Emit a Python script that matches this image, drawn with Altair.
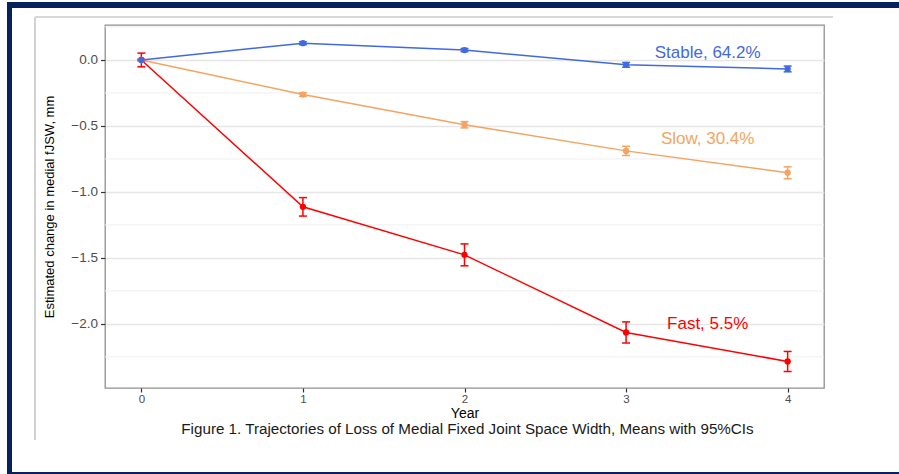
import altair as alt
import pandas as pd

# ---- data ----
years = [0, 1, 2, 3, 4]
series_names = ["Fast", "Slow", "Stable"]
fast_mean = [0.0, -1.113, -1.477, -2.065, -2.285]
fast_ci = [0.052, 0.07, 0.083, 0.08, 0.076]
slow_mean = [0.0, -0.262, -0.491, -0.689, -0.855]
slow_ci = [0.006, 0.014, 0.024, 0.035, 0.045]
stable_mean = [0.0, 0.127, 0.075, -0.037, -0.068]
stable_ci = [0.005, 0.011, 0.012, 0.018, 0.022]
series_colors = ["#FF0000", "#F4A460", "#4169E1"]

label_text = ["Fast, 5.5%", "Slow, 30.4%", "Stable, 64.2%"]
label_year = [3.505, 3.505, 3.505]
label_value = [-2.04, -0.639, 0.017]

y_major = [-2.0, -1.5, -1.0, -0.5, 0.0]
y_minor = [-2.25, -1.75, -1.25, -0.75, -0.25, 0.25]

caption = "Figure 1. Trajectories of Loss of Medial Fixed Joint Space Width, Means with 95%CIs"

# ---- tables ----
rows = []
for name, means, cis in zip(series_names, [fast_mean, slow_mean, stable_mean],
                            [fast_ci, slow_ci, stable_ci]):
    for yr, m, c in zip(years, means, cis):
        rows.append({"series": name, "year": yr, "mean": m, "lo": m - c, "hi": m + c})
df = pd.DataFrame(rows)
labels_df = pd.DataFrame({"series": series_names, "text": label_text,
                          "lx": label_year, "ly": label_value})
minor_df = pd.DataFrame({"v": y_minor})
one = pd.DataFrame({"a": [0]})

xscale = alt.Scale(domain=[-0.225, 4.225], nice=False, zero=False)
yscale = alt.Scale(domain=[-2.486, 0.265], nice=False, zero=False)
cscale = alt.Scale(domain=series_names, range=series_colors)
color = alt.Color("series:N", scale=cscale, legend=None)

x_axis = alt.Axis(values=years, format="d", grid=False, domain=False,
                  tickSize=4, tickColor="#333333", tickWidth=1.2,
                  labelFontSize=11.5, labelColor="#4d4d4d", labelPadding=1,
                  title="Year", titleFontSize=14, titleFontWeight="normal",
                  titleColor="#000000", titleY=29, titleBaseline="alphabetic")
y_axis = alt.Axis(values=y_major, format=".1f", grid=True, gridColor="#e6e6e6",
                  gridWidth=1.3, domain=False, tickSize=4.5, tickColor="#333333",
                  tickWidth=1.2, labelFontSize=13.5, labelColor="#4d4d4d",
                  labelPadding=3, title="Estimated change in medial fJSW, mm",
                  titleFontSize=13, titleFontWeight="normal", titleColor="#000000",
                  titleX=-56, titleY=181.5, titleAngle=270,
                  titleBaseline="middle", titleAlign="center")

X = alt.X("year:Q", scale=xscale, axis=x_axis)

def Y(field):
    return alt.Y(field, scale=yscale, axis=y_axis)

base = alt.Chart(df)

minor = alt.Chart(minor_df).mark_rule(color="#efefef", strokeWidth=1).encode(
    y=Y("v:Q"))

lines = base.mark_line(strokeWidth=1.5).encode(x=X, y=Y("mean:Q"), color=color)

bars = base.mark_rule(strokeWidth=1.5).encode(
    x=X, y=Y("lo:Q"), y2="hi:Q", color=color)

cap_lo = base.mark_tick(orient="horizontal", size=8, thickness=1.5, opacity=1).encode(
    x=X, y=Y("lo:Q"), color=color)
cap_hi = base.mark_tick(orient="horizontal", size=8, thickness=1.5, opacity=1).encode(
    x=X, y=Y("hi:Q"), color=color)

points = base.mark_point(filled=True, size=40, opacity=1).encode(
    x=X, y=Y("mean:Q"), color=color)

labels = alt.Chart(labels_df).mark_text(fontSize=17, align="center",
                                        baseline="alphabetic").encode(
    x=alt.X("lx:Q", scale=xscale, axis=x_axis),
    y=Y("ly:Q"), text="text:N", color=color)

# frame decorations (outside plot area)
navy = "#06215c"
nav_top = alt.Chart(one).mark_rect(color=navy).encode(
    x=alt.value(-98), x2=alt.value(794), y=alt.value(-23), y2=alt.value(-17))
nav_left = alt.Chart(one).mark_rect(color=navy).encode(
    x=alt.value(-98), x2=alt.value(-93), y=alt.value(-23), y2=alt.value(449))
nav_bot = alt.Chart(one).mark_rect(color=navy).encode(
    x=alt.value(-98), x2=alt.value(794), y=alt.value(447), y2=alt.value(449))
edge_top = alt.Chart(one).mark_rule(color="#d8d8d8", strokeWidth=2).encode(
    x=alt.value(-70), x2=alt.value(728), y=alt.value(-8))
edge_left = alt.Chart(one).mark_rule(color="#d2d2d2", strokeWidth=2).encode(
    x=alt.value(-70), y=alt.value(-8), y2=alt.value(415))
cap_text = alt.Chart(one).mark_text(text=caption, fontSize=15.2, align="center",
                                    baseline="alphabetic", color="#1a1a1a").encode(
    x=alt.value(362.5), y=alt.value(409))

chart = alt.layer(
    minor, lines, bars, cap_lo, cap_hi, points, labels,
    nav_top, nav_left, nav_bot, edge_top, edge_left, cap_text
).properties(
    width=719, height=363,
    autosize=alt.AutoSizeParams(type="none"),
    padding={"left": 105, "top": 25, "right": 75, "bottom": 86},
    background="white",
).configure(font="Liberation Sans").configure_view(
    stroke="#8f8f8f", strokeWidth=1.3)

chart.save("out.html", embed_options={"renderer": "svg", "actions": False})
